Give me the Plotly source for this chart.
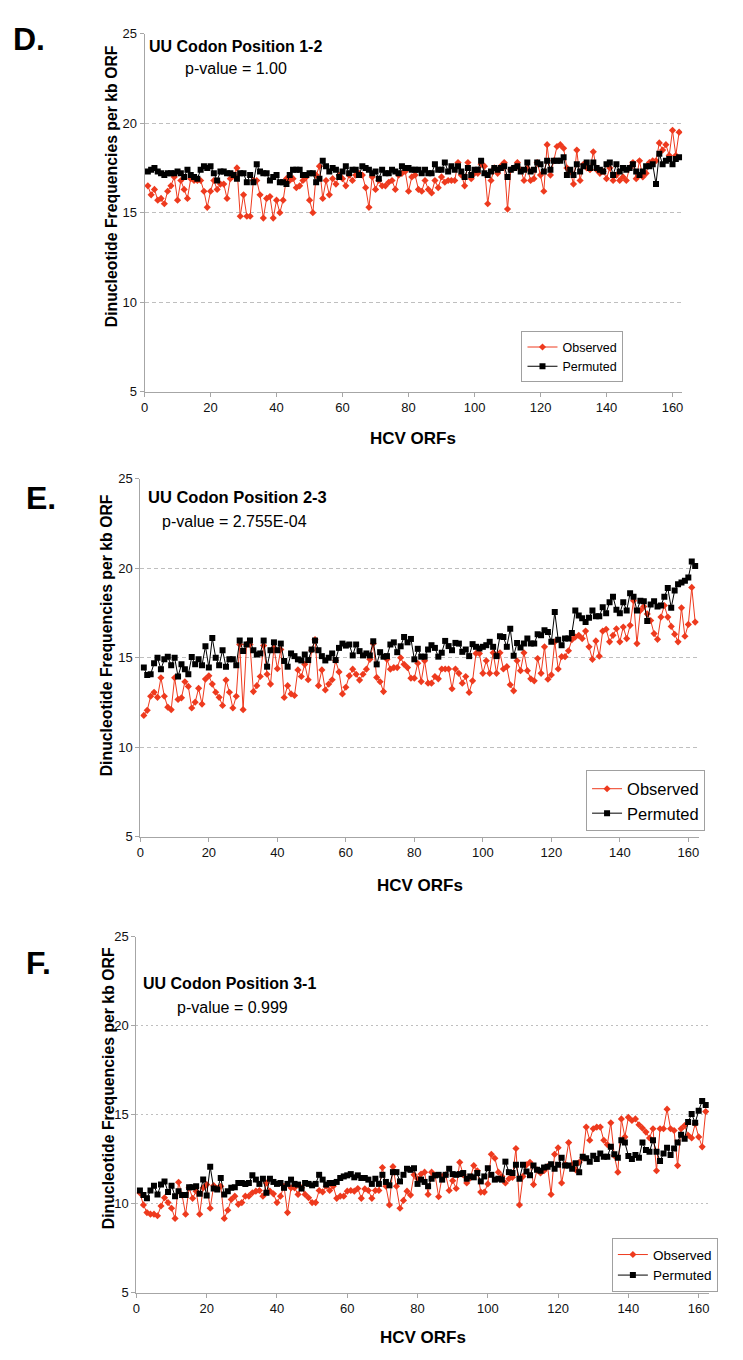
import plotly.graph_objects as go

orf = list(range(1, 163))
x_ticks = [0, 20, 40, 60, 80, 100, 120, 140, 160]
y_ticks = [5, 10, 15, 20, 25]
series_names = ["Observed", "Permuted"]
panel_letters = ["D.", "E.", "F."]
panel_titles = ["UU Codon Position 1-2", "UU Codon Position 2-3", "UU Codon Position 3-1"]
panel_pvalues = ["p-value = 1.00", "p-value = 2.755E-04", "p-value = 0.999"]
x_title = "HCV ORFs"
y_title = "Dinucleotide Frequencies per kb ORF"

d_observed = [
    16.5, 16.0, 16.3, 15.7, 15.8, 15.5, 16.2, 16.5, 17.0, 15.7,
    16.8, 16.3, 15.8, 16.9, 16.8, 16.8, 16.8, 16.2, 15.3, 16.2,
    16.8, 16.3, 16.6, 16.6, 15.8, 16.9, 17.1, 17.5, 14.8, 16.0,
    14.8, 14.8, 16.8, 16.8, 16.0, 14.7, 15.8, 15.9, 14.7, 15.7,
    15.0, 15.7, 16.9, 16.8, 16.9, 16.4, 16.5, 16.8, 17.0, 15.7,
    15.0, 17.1, 17.6, 15.8, 16.8, 16.0, 16.9, 16.6, 17.1, 16.9,
    16.5, 17.1, 16.8, 17.1, 17.2, 17.1, 16.4, 15.3, 17.0, 16.3,
    16.8, 16.5, 16.5, 16.7, 16.8, 16.3, 17.1, 17.2, 17.3, 16.2,
    17.0, 17.1, 16.3, 16.2, 16.8, 16.3, 16.1, 16.8, 16.4, 17.0,
    16.7, 16.8, 16.8, 16.8, 17.8, 17.1, 16.5, 17.8, 16.9, 17.2,
    17.2, 17.7, 17.6, 15.5, 16.8, 17.5, 17.2, 17.6, 17.8, 15.2,
    17.4, 17.5, 17.8, 17.4, 16.8, 17.5, 16.8, 16.9, 17.8, 17.1,
    16.2, 18.8, 17.1, 17.9, 18.7, 18.8, 18.6, 17.5, 17.3, 16.6,
    18.5, 16.8, 17.7, 17.5, 17.4, 18.4, 17.4, 17.2, 17.3, 16.9,
    17.5, 16.8, 17.1, 16.8, 17.0, 16.8, 17.5, 17.8, 16.9, 17.9,
    17.0, 17.2, 17.8, 17.9, 17.9, 18.9, 18.5, 18.8, 18.2, 19.6,
    18.2, 19.5]
d_permuted = [
    17.3, 17.4, 17.5, 17.3, 17.2, 17.1, 17.2, 17.2, 17.2, 17.3,
    17.2, 17.0, 17.4, 17.1, 17.0, 16.9, 17.4, 17.6, 17.5, 17.6,
    17.2, 16.8, 17.3, 17.3, 17.2, 17.2, 17.1, 16.9, 17.2, 17.2,
    16.7, 17.1, 16.7, 17.7, 17.3, 17.2, 17.2, 16.8, 17.0, 17.1,
    16.7, 16.7, 16.6, 17.1, 17.4, 17.4, 17.4, 17.1, 17.1, 17.2,
    17.2, 16.7, 16.9, 17.9, 17.6, 17.3, 17.5, 17.4, 17.0, 17.3,
    17.6, 17.2, 17.4, 17.4, 17.1, 17.6, 17.5, 17.4, 17.2, 17.3,
    16.9, 17.4, 17.2, 17.2, 17.4, 17.3, 17.2, 17.6, 17.5, 17.5,
    17.4, 17.4, 17.4, 17.2, 17.4, 17.2, 17.2, 17.7, 17.4, 17.4,
    17.8, 17.3, 17.6, 17.4, 17.6, 17.3, 17.0, 17.5, 17.1, 17.4,
    17.4, 17.9, 17.2, 17.1, 17.3, 17.5, 17.4, 17.5, 17.6, 17.0,
    17.4, 17.5, 17.6, 17.3, 17.4, 17.8, 17.3, 17.4, 17.8, 17.7,
    17.3, 17.9, 17.4, 17.9, 17.9, 17.9, 18.1, 17.1, 17.4, 17.1,
    17.7, 17.3, 17.6, 17.8, 17.5, 17.8, 17.5, 17.4, 17.3, 17.7,
    17.8, 17.1, 17.7, 17.3, 17.5, 17.4, 17.5, 17.7, 17.3, 17.1,
    17.3, 17.6, 17.6, 17.7, 16.6, 18.3, 17.7, 17.9, 18.0, 17.7,
    18.0, 18.1]

e_observed = [
    11.78, 12.06, 12.85, 13.07, 12.79, 13.88, 12.85, 12.24, 12.10, 13.88,
    12.67, 12.76, 13.66, 13.40, 12.19, 12.52, 13.29, 12.41, 13.81, 13.99,
    13.53, 13.07, 12.79, 12.33, 13.75, 13.07, 12.19, 12.85, 15.74, 12.10,
    15.74, 15.74, 13.11, 13.44, 13.95, 15.68, 14.08, 13.53, 15.55, 14.39,
    15.46, 12.78, 13.44, 12.98, 12.89, 14.32, 13.95, 14.63, 13.77, 15.42,
    16.01, 13.44, 14.32, 13.20, 13.53, 13.77, 14.85, 14.21, 12.98, 13.35,
    13.99, 14.36, 14.08, 13.75, 14.08, 14.36, 14.91, 15.79, 13.90, 13.66,
    13.11, 14.91, 14.36, 14.45, 14.45, 15.00, 14.63, 14.45, 13.86, 13.86,
    14.69, 13.67, 14.83, 13.58, 13.58, 13.95, 13.82, 14.37, 14.37, 14.37,
    13.27, 14.37, 14.13, 13.58, 13.95, 13.06, 13.71, 15.24, 15.24, 14.13,
    14.83, 14.13, 15.28, 14.13, 15.28, 14.37, 14.50, 13.49, 13.15, 14.83,
    14.28, 15.28, 14.28, 13.82, 13.71, 14.96, 14.13, 15.61, 13.80, 14.04,
    15.89, 14.37, 15.06, 15.06, 15.39, 16.01, 16.16, 16.25, 16.07, 16.49,
    15.61, 14.91, 15.94, 15.09, 16.49, 16.59, 15.89, 16.25, 16.62, 15.89,
    16.72, 16.07, 16.81, 18.19, 15.79, 17.64, 17.86, 17.45, 17.08, 16.35,
    16.03, 17.27, 17.92, 17.27, 16.75, 16.31, 15.89, 17.79, 16.20, 16.86,
    18.93, 16.99]
e_permuted = [
    14.45, 14.03, 14.08, 14.69, 15.00, 14.36, 14.91, 15.06, 14.58, 15.00,
    13.95, 14.63, 14.36, 14.08, 15.04, 14.63, 14.91, 14.58, 15.64, 14.45,
    16.10, 15.00, 14.58, 15.42, 14.49, 14.91, 14.91, 14.58, 15.96, 15.37,
    15.74, 15.96, 15.42, 15.18, 15.24, 15.96, 14.50, 15.42, 15.86, 15.42,
    15.79, 14.82, 14.50, 15.24, 15.09, 14.91, 14.85, 15.18, 14.87, 15.46,
    15.96, 15.42, 15.09, 14.85, 15.00, 15.24, 14.87, 15.55, 15.79, 15.68,
    15.74, 15.13, 15.74, 15.37, 15.13, 15.24, 15.13, 15.92, 14.63, 15.31,
    15.06, 15.09, 15.74, 15.86, 15.31, 15.64, 16.16, 15.86, 16.05, 14.91,
    15.50, 15.06, 15.06, 15.46, 15.70, 15.55, 15.06, 15.28, 15.94, 15.65,
    15.42, 15.83, 15.79, 15.33, 15.46, 15.09, 15.76, 15.61, 15.52, 15.61,
    15.70, 15.89, 15.61, 15.09, 16.20, 16.16, 15.61, 16.62, 15.11, 15.83,
    15.57, 15.79, 16.07, 15.79, 15.79, 16.31, 16.25, 16.53, 16.44, 15.89,
    17.55, 16.01, 15.70, 16.07, 16.07, 16.38, 17.64, 17.36, 17.21, 16.99,
    17.23, 17.64, 17.32, 17.32, 17.82, 17.49, 18.10, 18.41, 17.68, 17.49,
    18.10, 17.64, 18.60, 18.41, 17.64, 18.19, 18.15, 17.05, 17.97, 18.15,
    17.86, 17.92, 18.41, 18.89, 17.79, 18.75, 19.11, 19.21, 19.30, 19.48,
    20.37, 20.13]

f_observed = [
    10.60, 9.93, 9.50, 9.41, 9.41, 9.32, 9.87, 10.33, 10.06, 9.74,
    9.17, 11.20, 10.48, 9.41, 10.89, 10.30, 10.70, 9.41, 10.89, 11.07,
    9.74, 11.01, 10.85, 10.98, 9.17, 9.63, 10.24, 10.42, 9.96, 10.06,
    10.42, 10.42, 10.61, 10.70, 10.74, 10.42, 11.16, 10.70, 10.55, 10.06,
    10.42, 10.98, 9.50, 10.89, 10.89, 10.52, 10.89, 10.52, 10.33, 10.06,
    10.06, 10.74, 10.66, 10.98, 10.74, 10.98, 10.30, 10.42, 10.42, 10.70,
    10.74, 10.70, 10.85, 10.30, 10.83, 10.74, 10.30, 10.74, 10.74, 12.03,
    10.98, 9.93, 12.08, 10.98, 9.74, 10.18, 10.70, 10.48, 11.62, 11.40,
    11.66, 11.77, 10.52, 11.77, 11.59, 10.39, 11.53, 11.62, 10.74, 11.29,
    10.85, 12.32, 11.62, 11.16, 11.44, 12.14, 11.85, 10.65, 10.65, 11.11,
    12.77, 12.55, 11.77, 11.53, 11.16, 11.40, 11.48, 13.10, 9.93, 11.53,
    12.18, 12.32, 11.07, 11.90, 11.72, 11.85, 12.08, 10.52, 12.77, 13.14,
    11.16, 12.21, 13.43, 12.18, 11.90, 12.32, 12.58, 14.30, 13.56, 14.21,
    14.30, 14.30, 13.56, 13.32, 14.54, 12.69, 11.77, 14.76, 13.75, 14.85,
    14.67, 14.76, 14.43, 14.24, 14.02, 13.69, 14.21, 11.85, 14.21, 14.21,
    15.31, 14.21, 14.11, 12.14, 14.21, 14.39, 13.84, 13.69, 14.48, 13.75,
    13.19, 15.17]
f_permuted = [
    10.74, 10.48, 10.30, 10.74, 11.01, 10.52, 11.07, 11.25, 10.66, 11.01,
    10.42, 10.70, 10.48, 10.48, 10.92, 10.92, 10.98, 10.55, 11.35, 10.46,
    12.08, 10.85, 10.79, 11.44, 10.52, 10.70, 10.89, 10.92, 11.16, 11.16,
    11.11, 11.16, 11.59, 11.35, 11.11, 11.40, 10.61, 11.40, 11.22, 11.11,
    11.16, 10.89, 11.11, 11.35, 11.11, 11.07, 10.85, 11.16, 11.11, 11.03,
    11.11, 11.62, 11.35, 11.07, 11.16, 11.16, 11.22, 11.44, 11.53, 11.59,
    11.66, 11.48, 11.59, 11.44, 11.44, 11.35, 11.11, 11.40, 11.11, 11.62,
    11.22, 11.03, 11.77, 11.77, 11.25, 11.62, 11.96, 11.90, 11.99, 11.11,
    11.35, 11.22, 10.98, 11.40, 11.59, 11.62, 11.35, 11.62, 11.96, 11.66,
    11.62, 11.66, 11.72, 11.40, 11.53, 11.48, 11.72, 11.25, 11.53, 11.99,
    11.62, 11.35, 11.40, 11.35, 12.36, 11.77, 11.72, 12.18, 11.40, 12.18,
    11.81, 11.59, 12.14, 11.90, 11.85, 12.03, 12.08, 12.21, 11.96, 12.18,
    12.58, 12.14, 12.14, 11.96, 12.27, 11.77, 12.64, 12.55, 12.36, 12.69,
    12.51, 12.82, 12.64, 12.64, 13.19, 12.77, 12.58, 13.56, 13.43, 12.68,
    12.51, 12.73, 12.58, 13.43, 13.01, 12.92, 13.56, 12.92, 12.40, 12.82,
    13.14, 12.73, 13.10, 13.43, 13.87, 13.65, 14.58, 15.04, 14.54, 15.22,
    15.77, 15.54]

W, H = 743, 1360
FONT = "Liberation Sans, Arial, sans-serif"
RED = "#EE3A1E"
BLACK = "#000000"
AXIS_GRAY = "#A6A6A6"
GRID_GRAY = "#BFBFBF"


def px(x):
    return x / W


def py(y):
    return 1 - y / H


# panel geometry in pixels
panels = [
    dict(obs=d_observed, perm=d_permuted, x0=141.5, x1=683, xmax=163.0, yt=27, yb=389,
         griddash="4px,3px", legend=dict(x=521, y=328, size=12.5),
         letter=(7, 32), title=(144, 40), pval=(180, 62), ytitle=(108, 181), xtitle_y=436),
    dict(obs=e_observed, perm=e_permuted, x0=137.3, x1=700, xmax=163.2, yt=477, yb=839,
         griddash="4px,3px", legend=dict(x=586, y=772, size=16.5),
         letter=(20, 496), title=(143, 495), pval=(157, 520), ytitle=(104, 635), xtitle_y=888),
    dict(obs=f_observed, perm=f_permuted, x0=133.3, x1=710, xmax=163.0, yt=940, yb=1300,
         griddash="2px,3px", legend=dict(x=612, y=1245, size=13.5),
         letter=(20, 967), title=(138, 987), pval=(172, 1012), ytitle=(106, 1093), xtitle_y=1345),
]

fig = go.Figure()
annotations = []
layout = {}

for k, p in enumerate(panels):
    n = "" if k == 0 else str(k + 1)
    leg = "legend" if k == 0 else f"legend{k + 1}"
    fig.add_trace(go.Scatter(
        x=orf, y=p["obs"], name=series_names[0], mode="lines+markers",
        line=dict(color=RED, width=1),
        marker=dict(symbol="diamond", size=5.5, color=RED),
        xaxis="x" + n, yaxis="y" + n, legend=leg))
    fig.add_trace(go.Scatter(
        x=orf, y=p["perm"], name=series_names[1], mode="lines+markers",
        line=dict(color=BLACK, width=1),
        marker=dict(symbol="square", size=6, color=BLACK),
        xaxis="x" + n, yaxis="y" + n, legend=leg))

    layout["xaxis" + n] = dict(
        domain=[px(p["x0"]), px(p["x1"])], range=[0, p["xmax"]],
        anchor="y" + n, tickvals=x_ticks, ticks="outside", ticklen=4,
        tickcolor=AXIS_GRAY, showline=True, linecolor=AXIS_GRAY, linewidth=1,
        showgrid=False, zeroline=False,
        tickfont=dict(family=FONT, size=13, color="#111111"))
    layout["yaxis" + n] = dict(
        domain=[py(p["yb"]), py(p["yt"])], range=[5, 25],
        anchor="x" + n, tickvals=y_ticks, ticks="outside", ticklen=4,
        tickcolor=AXIS_GRAY, showline=True, linecolor=AXIS_GRAY, linewidth=1,
        showgrid=True, gridcolor=GRID_GRAY, gridwidth=1, griddash=p["griddash"],
        zeroline=False,
        tickfont=dict(family=FONT, size=13, color="#111111"))
    lg = p["legend"]
    layout[leg] = dict(
        x=px(lg["x"]), y=py(lg["y"]), xanchor="left", yanchor="top",
        bgcolor="white", bordercolor="#A0A0A0", borderwidth=1,
        font=dict(family=FONT, size=lg["size"], color="black"),
        itemwidth=30, tracegroupgap=0)

    common = dict(xref="paper", yref="paper", showarrow=False)
    annotations += [
        dict(text=f"<b>{panel_letters[k]}</b>", x=px(p["letter"][0]), y=py(p["letter"][1]),
             xanchor="left", yanchor="middle",
             font=dict(family=FONT, size=32, color="black"), **common),
        dict(text=f"<b>{panel_titles[k]}</b>", x=px(p["title"][0]), y=py(p["title"][1]),
             xanchor="left", yanchor="middle",
             font=dict(family=FONT, size=16.5 if k == 1 else 16, color="black"), **common),
        dict(text=panel_pvalues[k], x=px(p["pval"][0]), y=py(p["pval"][1]),
             xanchor="left", yanchor="middle",
             font=dict(family=FONT, size=16, color="black"), **common),
        dict(text=f"<b>{y_title}</b>", x=px(p["ytitle"][0]), y=py(p["ytitle"][1]),
             xanchor="center", yanchor="middle", textangle=-90,
             font=dict(family=FONT, size=15.8, color="black"), **common),
        dict(text=f"<b>{x_title}</b>", x=px((p["x0"] + p["x1"]) / 2), y=py(p["xtitle_y"]),
             xanchor="center", yanchor="middle",
             font=dict(family=FONT, size=17, color="black"), **common),
    ]

fig.update_layout(
    width=W, height=H, margin=dict(l=0, r=0, t=0, b=0),
    paper_bgcolor="white", plot_bgcolor="white",
    annotations=annotations, showlegend=True, **layout)

fig.write_html(
    "out.html",
    config={"displayModeBar": False},
    post_script="document.body.style.margin='0px'; document.body.style.overflow='hidden';")
